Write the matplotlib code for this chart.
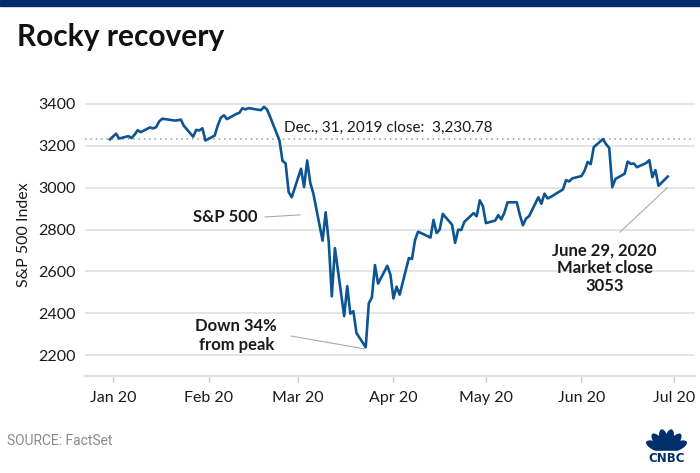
import numpy as np
import pandas as pd
import matplotlib
matplotlib.use("Agg")
from matplotlib import pyplot as plt
from matplotlib.patches import Ellipse, Rectangle

plt.rcParams['font.family'] = ['Lato', 'DejaVu Sans']

# S&P 500 daily closes, Dec 31 2019 - Jun 29 2020
dates = [
    '2019-12-31', '2020-01-02', '2020-01-03', '2020-01-06', '2020-01-07', '2020-01-08', '2020-01-09',
    '2020-01-10', '2020-01-13', '2020-01-14', '2020-01-15', '2020-01-16', '2020-01-17', '2020-01-21',
    '2020-01-22', '2020-01-23', '2020-01-24', '2020-01-27', '2020-01-28', '2020-01-29', '2020-01-30',
    '2020-01-31', '2020-02-03', '2020-02-04', '2020-02-05', '2020-02-06', '2020-02-07', '2020-02-10',
    '2020-02-11', '2020-02-12', '2020-02-13', '2020-02-14', '2020-02-18', '2020-02-19', '2020-02-20',
    '2020-02-21', '2020-02-24', '2020-02-25', '2020-02-26', '2020-02-27', '2020-02-28', '2020-03-02',
    '2020-03-03', '2020-03-04', '2020-03-05', '2020-03-06', '2020-03-09', '2020-03-10', '2020-03-11',
    '2020-03-12', '2020-03-13', '2020-03-16', '2020-03-17', '2020-03-18', '2020-03-19', '2020-03-20',
    '2020-03-23', '2020-03-24', '2020-03-25', '2020-03-26', '2020-03-27', '2020-03-30', '2020-03-31',
    '2020-04-01', '2020-04-02', '2020-04-03', '2020-04-06', '2020-04-07', '2020-04-08', '2020-04-09',
    '2020-04-13', '2020-04-14', '2020-04-15', '2020-04-16', '2020-04-17', '2020-04-20', '2020-04-21',
    '2020-04-22', '2020-04-23', '2020-04-24', '2020-04-27', '2020-04-28', '2020-04-29', '2020-04-30',
    '2020-05-01', '2020-05-04', '2020-05-05', '2020-05-06', '2020-05-07', '2020-05-08', '2020-05-11',
    '2020-05-12', '2020-05-13', '2020-05-14', '2020-05-15', '2020-05-18', '2020-05-19', '2020-05-20',
    '2020-05-21', '2020-05-22', '2020-05-26', '2020-05-27', '2020-05-28', '2020-05-29', '2020-06-01',
    '2020-06-02', '2020-06-03', '2020-06-04', '2020-06-05', '2020-06-08', '2020-06-09', '2020-06-10',
    '2020-06-11', '2020-06-12', '2020-06-15', '2020-06-16', '2020-06-17', '2020-06-18', '2020-06-19',
    '2020-06-22', '2020-06-23', '2020-06-24', '2020-06-25', '2020-06-26', '2020-06-29',
]
closes = [
    3230.78, 3257.85, 3234.85, 3246.28, 3237.18, 3253.05, 3274.70,
    3265.35, 3288.13, 3283.15, 3289.29, 3316.81, 3329.62, 3320.79,
    3321.75, 3325.54, 3295.47, 3243.63, 3276.24, 3273.40, 3283.66,
    3225.52, 3248.92, 3297.59, 3334.69, 3345.78, 3327.71, 3352.09,
    3357.75, 3379.45, 3373.94, 3380.16, 3370.29, 3386.15, 3373.23,
    3337.75, 3225.89, 3128.21, 3116.39, 2978.76, 2954.22, 3090.23,
    3003.37, 3130.12, 3023.94, 2972.37, 2746.56, 2882.23, 2741.38,
    2480.64, 2711.02, 2386.13, 2529.19, 2398.10, 2409.39, 2304.92,
    2237.40, 2447.33, 2475.56, 2630.07, 2541.47, 2626.65, 2584.59,
    2470.50, 2526.90, 2488.65, 2663.68, 2659.41, 2749.98, 2789.82,
    2761.63, 2846.06, 2783.36, 2799.55, 2874.56, 2823.16, 2736.56,
    2799.31, 2797.80, 2836.74, 2878.48, 2863.39, 2939.51, 2912.43,
    2830.71, 2842.74, 2868.44, 2848.42, 2881.19, 2929.80, 2930.32,
    2870.12, 2820.00, 2852.50, 2863.70, 2953.91, 2922.94, 2971.61,
    2948.51, 2955.45, 2991.77, 3036.13, 3029.73, 3044.31, 3055.73,
    3080.82, 3122.87, 3112.35, 3193.93, 3232.39, 3207.18, 3190.14,
    3002.10, 3041.31, 3066.59, 3124.74, 3113.49, 3115.34, 3097.74,
    3117.86, 3131.29, 3050.33, 3083.76, 3009.05, 3053.24,
]
dec31_close = 3230.78
y_ticks = [2200, 2400, 2600, 2800, 3000, 3200, 3400]
x_tick_dates = ['2020-01-01', '2020-02-01', '2020-03-01', '2020-04-01',
                '2020-05-01', '2020-06-01', '2020-07-01']
x_tick_labels = ['Jan 20', 'Feb 20', 'Mar 20', 'Apr 20', 'May 20', 'Jun 20', 'Jul 20']

sp = pd.Series(closes, index=pd.to_datetime(dates))

navy = '#002f6c'
line_blue = '#0d5493'
grid_gray = '#e3e3e3'
lead_gray = '#aaaaaa'
txt = '#1a1a1a'

fig = plt.figure(figsize=(7, 4.73), dpi=100)
ax = fig.add_axes([85 / 700, 1 - 376 / 473, 610 / 700, (376 - 93.5) / 473])

# top banner
fig.patches.append(Rectangle((0, 1 - 6 / 473), 1, 6 / 473, transform=fig.transFigure,
                             color=navy, zorder=5))

ax.plot(sp.index, sp.values, color=line_blue, lw=1.9, zorder=4, solid_joinstyle='round')
ax.axhline(dec31_close, color='#9a9a9a', lw=1.1, ls=(0, (1, 2.5)), zorder=3)

ax.set_ylim(2100, 3450)
ax.set_xlim(pd.Timestamp('2019-12-22 22:00'), pd.Timestamp('2020-07-07 20:00'))
ax.set_yticks(y_ticks)
ax.set_xticks(pd.to_datetime(x_tick_dates))
ax.set_xticklabels(x_tick_labels)
ax.grid(axis='y', color=grid_gray, lw=1.3)
ax.set_axisbelow(True)
for s in ['top', 'right', 'left']:
    ax.spines[s].set_visible(False)
ax.spines['bottom'].set_color(grid_gray)
ax.spines['bottom'].set_linewidth(1.6)
ax.tick_params(axis='y', length=0, pad=7, labelsize=11.5, labelcolor=txt)
ax.tick_params(axis='x', length=4, width=1, color='#cccccc', pad=7, labelsize=11.5,
               labelcolor=txt)
ax.set_ylabel('S&P 500 Index', fontsize=11.5, color=txt, labelpad=5)

# annotations
ax.text(pd.Timestamp('2020-02-25 12:00'), 3285, 'Dec., 31, 2019 close:  3,230.78',
        fontsize=11, color=txt, va='center', ha='left')

ax.text(pd.Timestamp('2020-02-17'), 2860, 'S&P 500', fontsize=12, fontweight='bold',
        color=txt, ha='right', va='center')
ax.plot([pd.Timestamp('2020-02-19 08:00'), pd.Timestamp('2020-03-01 16:00')], [2860, 2870],
        color=lead_gray, lw=0.8)

ax.text(pd.Timestamp('2020-02-10'), 2293, 'Down 34%\nfrom peak', fontsize=12,
        fontweight='bold', color=txt, ha='center', va='center', linespacing=1.2)
ax.plot([pd.Timestamp('2020-02-27 18:00'), pd.Timestamp('2020-03-22 12:00')], [2291, 2230],
        color=lead_gray, lw=0.8)

ax.text(pd.Timestamp('2020-06-08 12:00'), 2616, 'June 29, 2020\nMarket close\n3053',
        fontsize=12, fontweight='bold', color=txt, ha='center', va='center',
        linespacing=1.15)
ax.plot([pd.Timestamp('2020-06-13 12:00'), pd.Timestamp('2020-06-28 18:00')], [2788, 2998],
        color=lead_gray, lw=0.8)

fig.text(17 / 700, 1 - 37 / 473, 'Rocky recovery', fontsize=21.5, fontweight='bold',
         color='#111111', va='center', ha='left')
fig.text(7 / 700, 1 - 441 / 473, 'SOURCE: FactSet', fontsize=10, color='#8a8a8a',
         va='center', ha='left', family='Roboto')

# CNBC logo
lax = fig.add_axes([640 / 700, 0, 55 / 700, 55 / 473])
lax.set_xlim(0, 55)
lax.set_ylim(0, 55)
lax.axis('off')
for ang in [-66, -40, -13, 13, 40, 66]:
    r = np.deg2rad(ang)
    cx, cy = 26.5 + 11 * np.sin(r), 22 + 11 * np.cos(r)
    lax.add_patch(Ellipse((cx, cy), 7.5, 21, angle=-ang, color=navy))
lax.add_patch(Rectangle((0, 0), 55, 22, color='white'))
lax.text(26.5, 15, 'CNBC', fontsize=8.5, fontweight='heavy', color=navy,
         ha='center', va='center', family='DejaVu Sans')

fig.savefig('out.png', dpi=100)
